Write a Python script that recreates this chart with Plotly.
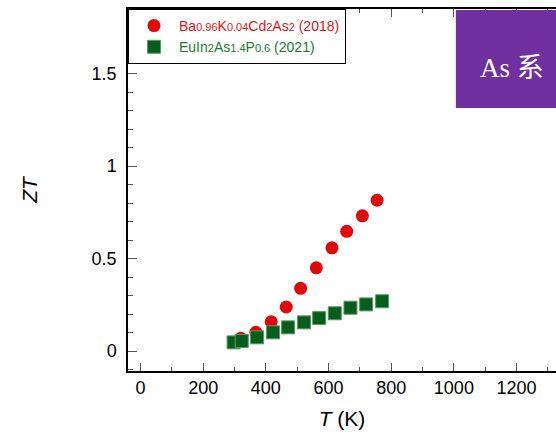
import plotly.graph_objects as go

# Data
ba_T = [320, 368, 417, 465, 511, 561, 611, 658, 708, 755]
ba_ZT = [0.069, 0.101, 0.158, 0.238, 0.339, 0.450, 0.558, 0.647, 0.731, 0.815]

eu_T = [297, 323, 372, 423, 471, 522, 570, 620, 670, 720, 771]
eu_ZT = [0.047, 0.054, 0.074, 0.101, 0.128, 0.155, 0.178, 0.204, 0.234, 0.252, 0.269]

x_ticks = [0, 200, 400, 600, 800, 1000, 1200]
y_ticks = [0, 0.5, 1, 1.5]
y_tick_text = ["0", "0.5", "1", "1.5"]

def sub(s):
    return "<span style='font-size:11px'>" + s + "</span>"

ba_name = ("<span style='color:#e31414'>Ba" + sub("0.96") + "K" + sub("0.04") +
           "Cd" + sub("2") + "As" + sub("2") + " (2018)</span>")
eu_name = ("<span style='color:#1e7a32'>EuIn" + sub("2") + "As" + sub("1.4") +
           "P" + sub("0.6") + " (2021)</span>")

fig = go.Figure()
fig.add_trace(go.Scatter(
    x=ba_T, y=ba_ZT, mode="markers", name=ba_name,
    marker=dict(symbol="circle", size=13, color="#e00808", line=dict(width=0)),
))
fig.add_trace(go.Scatter(
    x=eu_T, y=eu_ZT, mode="markers", name=eu_name,
    marker=dict(symbol="square", size=13, color="#075e1c",
                line=dict(width=1, color="#5a9a66")),
))

font_family = "Liberation Sans, Arial, sans-serif"

fig.update_layout(
    width=556, height=438,
    margin=dict(l=128, r=0, t=9, b=67),
    paper_bgcolor="white", plot_bgcolor="white",
    font=dict(family=font_family, color="black"),
    showlegend=True,
    legend=dict(
        x=0, y=1, xanchor="left", yanchor="top",
        bgcolor="white", bordercolor="black", borderwidth=1,
        font=dict(size=14, family=font_family),
        itemwidth=40,
        tracegroupgap=0,
    ),
    xaxis=dict(
        range=[-40, 1326],
        tickmode="array", tickvals=x_ticks,
        ticks="inside", ticklen=8, tickwidth=1, tickcolor="#555",
        minor=dict(dtick=100, ticks="inside", ticklen=4, tickcolor="#555"),
        showline=True, linecolor="black", linewidth=1.5,
        mirror="allticks",
        showgrid=False, zeroline=False,
        tickfont=dict(size=18, family=font_family),
        title=dict(text="<i>T</i> (K)", font=dict(size=21, family=font_family), standoff=14),
    ),
    yaxis=dict(
        range=[-0.108, 1.849],
        tickmode="array", tickvals=y_ticks, ticktext=y_tick_text,
        ticks="inside", ticklen=9, tickwidth=1, tickcolor="#555",
        minor=dict(dtick=0.1, tick0=0, ticks="inside", ticklen=5, tickcolor="#555"),
        showline=True, linecolor="black", linewidth=1.5,
        mirror=False,
        showgrid=False, zeroline=False,
        ticklabelstandoff=6,
        tickfont=dict(size=18, family=font_family),
        title=dict(text="<i>ZT</i>", font=dict(size=21, family=font_family), standoff=48),
    ),
    shapes=[dict(
        type="rect", xref="paper", yref="paper",
        x0=0.766, x1=1.0, y0=0.7265, y1=0.997,
        fillcolor="#7030a0", line=dict(width=0), layer="above",
    )],
    annotations=[dict(
        text="As 系", xref="paper", yref="paper",
        x=(512 - 128) / 428, y=(371 - 68) / 362,
        xanchor="center", yanchor="middle", showarrow=False,
        font=dict(size=27, color="white", family="Liberation Serif, Noto Sans CJK SC, serif"),
    )],
)

fig.write_html("out.html")
